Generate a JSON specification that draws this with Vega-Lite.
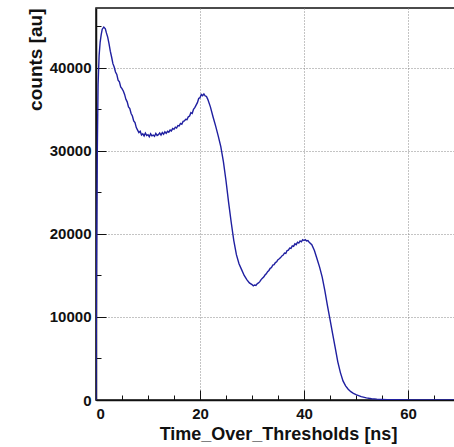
{
  "$schema": "https://vega.github.io/schema/vega-lite/v6.json",
  "width": 364,
  "height": 392,
  "padding": {"left": 96, "top": 8, "right": 0, "bottom": 47},
  "autosize": {"type": "none"},
  "background": "white",
  "config": {
    "view": {"stroke": "#111", "strokeWidth": 1.5},
    "font": "Liberation Sans"
  },
  "data": {"values": [
    {"t": 0.0, "c": 0},
    {"t": 0.1, "c": 15000},
    {"t": 0.25, "c": 30000},
    {"t": 0.4, "c": 38000},
    {"t": 0.6, "c": 41500},
    {"t": 0.8, "c": 43100},
    {"t": 1.0, "c": 44000},
    {"t": 1.2, "c": 44650},
    {"t": 1.5, "c": 44900},
    {"t": 1.8, "c": 44700},
    {"t": 2.0, "c": 44200},
    {"t": 2.25, "c": 43700},
    {"t": 2.5, "c": 42900},
    {"t": 2.75, "c": 42000},
    {"t": 3.0, "c": 41300},
    {"t": 3.25, "c": 40500},
    {"t": 3.5, "c": 40100},
    {"t": 3.75, "c": 39500},
    {"t": 4.0, "c": 39200},
    {"t": 4.25, "c": 38500},
    {"t": 4.5, "c": 38300},
    {"t": 4.75, "c": 37700},
    {"t": 5.0, "c": 37500},
    {"t": 5.25, "c": 37200},
    {"t": 5.5, "c": 36800},
    {"t": 5.75, "c": 36200},
    {"t": 6.0, "c": 35900},
    {"t": 6.25, "c": 35300},
    {"t": 6.5, "c": 35100},
    {"t": 6.75, "c": 34500},
    {"t": 7.0, "c": 34200},
    {"t": 7.25, "c": 33600},
    {"t": 7.5, "c": 33400},
    {"t": 7.75, "c": 32800},
    {"t": 8.0, "c": 32500},
    {"t": 8.25, "c": 32200},
    {"t": 8.5, "c": 32350},
    {"t": 8.75, "c": 31900},
    {"t": 9.0, "c": 32050},
    {"t": 9.25, "c": 31800},
    {"t": 9.5, "c": 32150},
    {"t": 9.75, "c": 31850},
    {"t": 10.0, "c": 31950},
    {"t": 10.25, "c": 31700},
    {"t": 10.5, "c": 32050},
    {"t": 10.75, "c": 31800},
    {"t": 11.0, "c": 31900},
    {"t": 11.25, "c": 31750},
    {"t": 11.5, "c": 32100},
    {"t": 11.75, "c": 31850},
    {"t": 12.0, "c": 31950},
    {"t": 12.25, "c": 32150},
    {"t": 12.5, "c": 31900},
    {"t": 12.75, "c": 32200},
    {"t": 13.0, "c": 32000},
    {"t": 13.25, "c": 32300},
    {"t": 13.5, "c": 32100},
    {"t": 13.75, "c": 32350},
    {"t": 14.0, "c": 32250},
    {"t": 14.25, "c": 32500},
    {"t": 14.5, "c": 32400},
    {"t": 14.75, "c": 32700},
    {"t": 15.0, "c": 32600},
    {"t": 15.25, "c": 32850},
    {"t": 15.5, "c": 32750},
    {"t": 15.75, "c": 33050},
    {"t": 16.0, "c": 33000},
    {"t": 16.25, "c": 33300},
    {"t": 16.5, "c": 33200},
    {"t": 16.75, "c": 33550},
    {"t": 17.0, "c": 33600},
    {"t": 17.25, "c": 33800},
    {"t": 17.5, "c": 33750},
    {"t": 17.75, "c": 34100},
    {"t": 18.0, "c": 34200},
    {"t": 18.25, "c": 34600},
    {"t": 18.5, "c": 34500},
    {"t": 18.75, "c": 35000},
    {"t": 19.0, "c": 35200},
    {"t": 19.25, "c": 35500},
    {"t": 19.5, "c": 35800},
    {"t": 19.75, "c": 36300},
    {"t": 20.0, "c": 36400},
    {"t": 20.25, "c": 36800},
    {"t": 20.5, "c": 36650},
    {"t": 20.75, "c": 36850},
    {"t": 21.0, "c": 36600},
    {"t": 21.25, "c": 36550},
    {"t": 21.5, "c": 36200},
    {"t": 22.0, "c": 35300},
    {"t": 22.5, "c": 34100},
    {"t": 23.0, "c": 33000},
    {"t": 23.5, "c": 31800},
    {"t": 24.0, "c": 30500},
    {"t": 24.5, "c": 28700},
    {"t": 25.0, "c": 26400},
    {"t": 25.5, "c": 23800},
    {"t": 26.0, "c": 21400},
    {"t": 26.5, "c": 19200},
    {"t": 27.0, "c": 17500},
    {"t": 27.5, "c": 16400},
    {"t": 28.0, "c": 15700},
    {"t": 28.5, "c": 15000},
    {"t": 29.0, "c": 14500},
    {"t": 29.5, "c": 14100},
    {"t": 30.0, "c": 13900},
    {"t": 30.25, "c": 13750},
    {"t": 30.5, "c": 13850},
    {"t": 30.75, "c": 13800},
    {"t": 31.0, "c": 14000},
    {"t": 31.25, "c": 14100},
    {"t": 31.5, "c": 14250},
    {"t": 31.75, "c": 14500},
    {"t": 32.0, "c": 14650},
    {"t": 32.25, "c": 14800},
    {"t": 32.5, "c": 15050},
    {"t": 32.75, "c": 15200},
    {"t": 33.0, "c": 15450},
    {"t": 33.25, "c": 15600},
    {"t": 33.5, "c": 15850},
    {"t": 33.75, "c": 15950},
    {"t": 34.0, "c": 16250},
    {"t": 34.25, "c": 16300},
    {"t": 34.5, "c": 16550},
    {"t": 34.75, "c": 16650},
    {"t": 35.0, "c": 16900},
    {"t": 35.25, "c": 17000},
    {"t": 35.5, "c": 17150},
    {"t": 35.75, "c": 17350},
    {"t": 36.0, "c": 17450},
    {"t": 36.25, "c": 17700},
    {"t": 36.5, "c": 17650},
    {"t": 36.75, "c": 18000},
    {"t": 37.0, "c": 18050},
    {"t": 37.25, "c": 18300},
    {"t": 37.5, "c": 18250},
    {"t": 37.75, "c": 18550},
    {"t": 38.0, "c": 18500},
    {"t": 38.25, "c": 18800},
    {"t": 38.5, "c": 18700},
    {"t": 38.75, "c": 19000},
    {"t": 39.0, "c": 18900},
    {"t": 39.25, "c": 19150},
    {"t": 39.5, "c": 19050},
    {"t": 39.75, "c": 19300},
    {"t": 40.0, "c": 19200},
    {"t": 40.25, "c": 19300},
    {"t": 40.5, "c": 19150},
    {"t": 40.75, "c": 19200},
    {"t": 41.0, "c": 19000},
    {"t": 41.5, "c": 18700},
    {"t": 42.0, "c": 18000},
    {"t": 42.5, "c": 17000},
    {"t": 43.0, "c": 16000},
    {"t": 43.5, "c": 14800},
    {"t": 44.0, "c": 13200},
    {"t": 44.5, "c": 11400},
    {"t": 45.0, "c": 9700},
    {"t": 45.5, "c": 8000},
    {"t": 46.0, "c": 6300},
    {"t": 46.5, "c": 4600},
    {"t": 47.0, "c": 3300},
    {"t": 47.5, "c": 2300},
    {"t": 48.0, "c": 1700},
    {"t": 48.5, "c": 1300},
    {"t": 49.0, "c": 1000},
    {"t": 49.5, "c": 800},
    {"t": 50.0, "c": 650},
    {"t": 51.0, "c": 400},
    {"t": 52.0, "c": 250},
    {"t": 53.0, "c": 150},
    {"t": 54.0, "c": 100},
    {"t": 55.0, "c": 70},
    {"t": 56.0, "c": 50},
    {"t": 58.0, "c": 30},
    {"t": 60.0, "c": 20},
    {"t": 63.0, "c": 10},
    {"t": 66.0, "c": 5},
    {"t": 70.0, "c": 3}
  ]},
  "mark": {"type": "line", "color": "#1f1fa0", "strokeWidth": 1.4, "clip": true},
  "encoding": {
    "x": {
      "field": "t", "type": "quantitative",
      "scale": {"domain": [0, 70], "nice": false, "zero": false},
      "axis": {
        "title": "Time_Over_Thresholds [ns]",
        "values": [0, 5, 10, 15, 20, 25, 30, 35, 40, 45, 50, 55, 60, 65, 70],
        "labelExpr": "datum.value % 20 === 0 ? datum.label : ''",
        "labelFont": "Liberation Sans", "labelFontWeight": "bold", "labelFontSize": 15, "labelColor": "#111",
        "labelPadding": 16,
        "titleFont": "Liberation Sans", "titleFontWeight": "bold", "titleFontSize": 18, "titleColor": "#111",
        "titlePadding": 4,
        "domainColor": "#111", "domainWidth": 1.5,
        "tickColor": "#111",
        "tickSize": {"condition": {"test": "datum.value % 20 === 0", "value": -10}, "value": -5},
        "grid": true, "gridDash": [1, 2], "gridColor": "#888",
        "gridOpacity": {"condition": {"test": "datum.value % 20 === 0", "value": 1}, "value": 0}
      }
    },
    "y": {
      "field": "c", "type": "quantitative",
      "scale": {"domain": [0, 47200], "nice": false},
      "axis": {
        "title": "counts [au]",
        "titleAnchor": "end",
        "values": [0, 5000, 10000, 15000, 20000, 25000, 30000, 35000, 40000, 45000],
        "labelExpr": "datum.value % 10000 === 0 ? datum.value : ''",
        "labelFont": "Liberation Sans", "labelFontWeight": "bold", "labelFontSize": 15, "labelColor": "#111",
        "labelPadding": 15,
        "titleFont": "Liberation Sans", "titleFontWeight": "bold", "titleFontSize": 19, "titleColor": "#111",
        "titlePadding": 4,
        "domainColor": "#111", "domainWidth": 1.5,
        "tickColor": "#111",
        "tickSize": {"condition": {"test": "datum.value % 10000 === 0", "value": -10}, "value": -5},
        "grid": true, "gridDash": [1, 2], "gridColor": "#888",
        "gridOpacity": {"condition": {"test": "datum.value % 10000 === 0", "value": 1}, "value": 0}
      }
    }
  }
}
